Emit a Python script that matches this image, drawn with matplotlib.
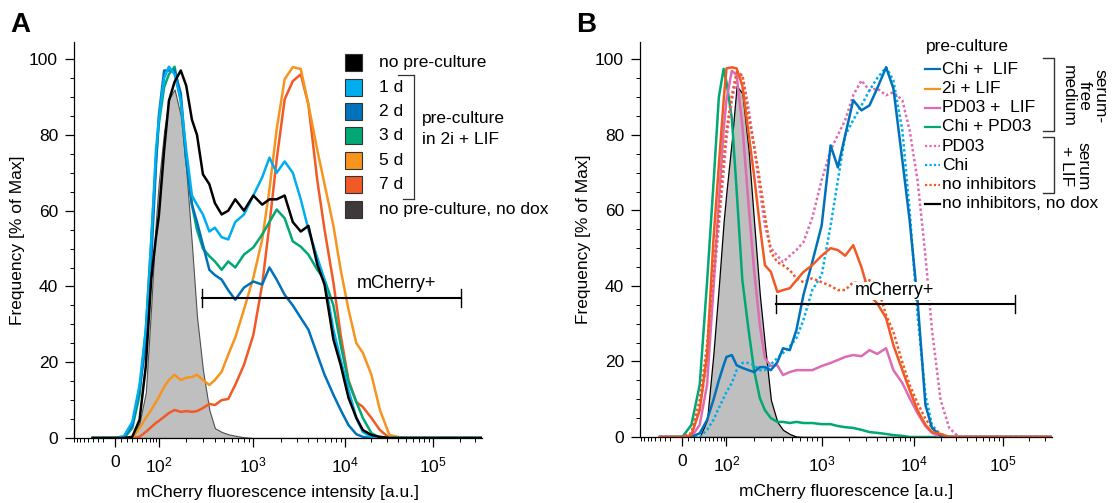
#import numpy to handle arrays
import numpy as np

#import matplotlib to create plots
import matplotlib.pyplot as plt
from matplotlib.patches import Rectangle
from matplotlib.lines import Line2D

plt.rcParams['font.family'] = ['Liberation Sans', 'DejaVu Sans']
plt.rcParams['mathtext.fontset'] = 'custom'
plt.rcParams['mathtext.rm'] = 'Liberation Sans'

#fluorescence bins shared by all histograms (a.u.)
fluor = [-40, 0, 15, 30, 45, 60, 75, 90, 100, 115, 130, 150, 175, 200, 230, 260, 300, 350, 400,
         470, 550, 650, 800, 1000, 1250, 1500, 1800, 2200, 2700, 3300, 4000, 5000, 6000, 7500,
         9000, 11000, 13500, 16000, 20000, 25000, 32000, 45000, 70000, 1e5, 2e5, 3.5e5]

#panel A: frequency [% of max]
a_nodox = [0, 0, 0, 0.3, 4, 12, 35, 57.7, 67.5, 81, 89.4, 92, 85, 71, 51, 32, 18, 7.4, 2.6,
           1.6, 1.0, 0.6, 0.2, 0] + [0] * 22
a_none = [0, 0, 0, 0.3, 4.8, 19, 42, 53, 58.5, 76, 89, 94, 97, 93, 84, 80, 69.6, 67, 62,
          59, 60, 63, 60, 64, 61.6, 63, 63, 64, 57, 54.5, 56, 45.8, 40.5, 26, 19.3, 10.6, 5.3,
          2.1, 0.8, 0.3, 0, 0, 0, 0, 0, 0]
a_1d = [0, 0, 0.5, 4.2, 14, 28.6, 52, 76, 84, 95, 98, 96, 89, 76, 64, 61.6, 59, 54.5, 55.5,
        53, 52.4, 57, 59, 64, 68.8, 74, 70, 73, 70, 63, 55, 47.6, 41.8, 28.6, 20.6, 12.7, 5.3,
        1.6, 0.3, 0, 0, 0, 0, 0, 0, 0]
a_2d = [0, 0, 0, 3.4, 13, 25, 47, 72, 85, 97, 97, 97, 91, 73.5, 61.6, 57, 51, 44.4, 43,
        41.8, 39, 36.5, 39.7, 41.3, 40.5, 45, 41.8, 37.8, 35, 31.7, 28.6, 22, 16.7, 11.4, 7.4,
        3.4, 1, 0.3, 0, 0, 0, 0, 0, 0, 0, 0]
a_3d = [0, 0, 0, 2.6, 11.4, 28.6, 52, 73.5, 82.8, 92.6, 96, 98, 89, 73.5, 61.6, 55, 50, 48,
        46.6, 44.4, 46.6, 45, 48.4, 50.3, 53.7, 57, 60.3, 58, 51.9, 50.5, 48.4, 44.4, 41.8, 35,
        24.6, 14.8, 9.5, 5.3, 1.3, 0, 0, 0, 0, 0, 0, 0]
a_5d = [0, 0, 0, 0, 2.6, 5.3, 7.4, 9.5, 10.8, 13.5, 15.3, 16.7, 15.3, 15.9, 16.1, 16.7, 15.3,
        14, 15.3, 17.5, 22, 26.5, 33.9, 42.3, 52.4, 65.6, 81.5, 94.7, 97.9, 97.4, 88, 76, 67,
        56, 44.4, 33.9, 25, 22.5, 16.7, 7.4, 0.8, 0, 0, 0, 0, 0]
a_7d = [0, 0, 0, 0, 0.3, 1.6, 2.9, 4, 4.5, 5.6, 6.6, 7.4, 6.9, 7.1, 6.9, 7.1, 7.9, 9, 8.7,
        10, 10.3, 14, 19.3, 27.2, 40.5, 56.3, 73.5, 89.4, 94.2, 96, 88, 68, 55, 41, 27.2, 15.3,
        9.5, 8.2, 5.3, 2.1, 0, 0, 0, 0, 0, 0]

#panel B: frequency [% of max]
b_nodox = [0, 0, 0, 0, 4.5, 22, 40, 57, 65, 78.6, 93, 91, 76, 57, 37.6, 24.3, 9.8, 4, 1.9,
           0.8, 0.1, 0] + [0] * 24
b_chi_lif = [0, 0, 0, 1, 4.5, 9.8, 15, 19, 21.2, 21.7, 19, 18.3, 17.7, 17.2, 18.5, 18.5, 17.7,
             19.8, 23.5, 23, 28.3, 37.6, 46.3, 56, 77.2, 71.4, 79.9, 89.2, 86.5, 87.8, 92.3,
             97.9, 92.3, 73.3, 57.4, 36.2, 8.5, 2.4, 0.3, 0, 0, 0, 0, 0, 0, 0]
b_2i_lif = [0, 0, 0.5, 7.1, 21.7, 52, 72, 89, 97.6, 97.9, 97.6, 93, 80.4, 69.3, 56, 45.5, 43.7,
            38.4, 38.9, 39.4, 41.5, 43.7, 45.5, 48, 50, 49.5, 48, 50.8, 45, 37.6, 35.4, 31.5,
            24.3, 17.7, 12.4, 7.1, 3.2, 1.3, 0.8, 0, 0, 0, 0, 0, 0, 0]
b_pd_lif = [0, 0, 0, 3.2, 13.8, 38.9, 62.7, 81.2, 89.2, 97, 95.8, 82.5, 61.4, 44.2, 29.6, 20.9,
            18.8, 19, 16.4, 17.2, 17.7, 17.7, 17.7, 18.8, 19.6, 20.4, 21.2, 21.7, 21.4, 23, 22,
            23.5, 17.7, 14.3, 10.3, 6.3, 2.9, 1.1, 0, 0, 0, 0, 0, 0, 0, 0]
b_chi_pd = [0, 0, 3.2, 13.8, 41, 66.7, 90, 97.5, 94, 84.4, 65.3, 41.5, 28.3, 17.7, 10.3, 7.1, 5,
            4, 4, 3.7, 4, 3.7, 3.7, 3.4, 3.4, 2.9, 2.6, 2.4, 1.9, 1.3, 1.1, 0.8, 0.5, 0.3,
            0] + [0] * 11
b_pd = [0, 0, 1, 8, 20, 40, 56, 70, 79, 89, 95, 96, 87, 77, 65.3, 56, 50, 48, 46.3, 48, 49.5,
        51.6, 58, 68, 76, 80, 83.9, 90.5, 94.4, 91.8, 92.3, 90.5, 91.3, 89.2, 81.2, 68, 48,
        28.3, 9.8, 2.4, 0, 0, 0, 0, 0, 0]
b_chi = [0, 0, 0, 0, 1.9, 4.5, 7.7, 10.3, 11.9, 14.3, 17.7, 19.6, 19.6, 19, 17.7, 17.7, 19.3,
         20.9, 22.2, 24, 26.2, 31, 38.9, 42.9, 56, 68, 79.9, 83.9, 87.8, 91.8, 95, 97.9, 94.4,
         81.2, 60, 32.3, 11.1, 3.2, 0.5, 0, 0, 0, 0, 0, 0, 0]
b_none = [0, 0, 1, 9.8, 24.3, 44.2, 58.7, 73.3, 81.2, 90.5, 96.6, 95.8, 84.7, 77.2, 68, 58.7,
          48.9, 46.3, 45.5, 44.2, 42, 41, 42, 41, 40, 38.9, 38.9, 41, 40.5, 41.5, 40.2, 32.3,
          27.8, 19.8, 13.8, 9, 4.8, 2.4, 0.8, 0, 0, 0, 0, 0, 0, 0]

#mCherry+ gates (a.u., % of max)
gate_a = [290, 2.1e5, 36.9]
gate_b = [336, 1.375e5, 35.2]

#legend entries
a_labels = ['no pre-culture', '1 d', '2 d', '3 d', '5 d', '7 d', 'no pre-culture, no dox']
b_labels = ['Chi +  LIF', '2i + LIF', 'PD03 +  LIF', 'Chi + PD03', 'PD03', 'Chi',
            'no inhibitors', 'no inhibitors, no dox']

#colors
black = '#000000'
cyan = '#00AEEF'
blue = '#0072BC'
green = '#00A875'
orange = '#F7941D'
red = '#F15A24'
pink = '#DD6CB2'
gray = '#BFBFBF'

for y in [a_nodox, a_none, a_1d, a_2d, a_3d, a_5d, a_7d, b_nodox, b_chi_lif, b_2i_lif,
          b_pd_lif, b_chi_pd, b_pd, b_chi, b_none]:
    assert len(y) == len(fluor)

#biexponential-like axis (log above ~100, linear-ish around 0), spacing
anchor_u = np.arcsinh(np.array([-1e3, -100, 0, 100, 1e3, 1e4, 1e5, 1e6]) / 50)
anchor_pos = np.array([-138.6, -43.9, 0, 43.9, 138.6, 230.3, 318.6, 406.9])

def fwd(x):
    return np.interp(np.arcsinh(np.asarray(x, dtype=float) / 50), anchor_u, anchor_pos)

def inv(p):
    return 50 * np.sinh(np.interp(np.asarray(p, dtype=float), anchor_pos, anchor_u))

W, H = 1116, 503
fig = plt.figure(figsize=(W / 100, H / 100), dpi=100)

def fx(px):
    return px / W

def fy(py):
    return 1 - py / H

axA = fig.add_axes([fx(74), fy(438), 408 / W, 396.3 / H])
axB = fig.add_axes([fx(640), fy(437), 412 / W, 395 / H])

minor = list(range(-90, -10, 10)) + list(range(10, 100, 10)) + \
    [m * 10 ** k for k in (2, 3, 4) for m in range(2, 10)] + [2e5, 3e5]

for ax, left in [(axA, -40.3), (axB, -42.1)]:
    ax.set_xscale('function', functions=(fwd, inv))
    ax.set_xlim(inv(left), inv(367.7))
    ax.set_ylim(0, 104.6)
    ax.set_xticks([0, 100, 1e3, 1e4, 1e5],
                  ['0', r'$\mathregular{10^2}$', r'$\mathregular{10^3}$',
                   r'$\mathregular{10^4}$', r'$\mathregular{10^5}$'])
    ax.set_xticks(minor, minor=True)
    ax.set_yticks([0, 20, 40, 60, 80, 100])
    ax.set_yticks(np.arange(0, 105, 5), minor=True)
    ax.spines['top'].set_visible(False)
    ax.spines['right'].set_visible(False)
    for s in ['left', 'bottom']:
        ax.spines[s].set_linewidth(0.9)
    ax.tick_params(which='major', direction='out', length=6.5, width=0.9, labelsize=12.5, pad=5)
    ax.tick_params(axis='x', which='major', pad=6)
    ax.tick_params(which='minor', direction='out', length=3.2, width=0.7)
    ax.set_ylabel('Frequency [% of Max]', fontsize=12.5, labelpad=3)

axA.set_xlabel('mCherry fluorescence intensity [a.u.]', fontsize=12.5, labelpad=7)
axB.set_xlabel('mCherry fluorescence [a.u.]', fontsize=12.5, labelpad=7)

#panel A histograms
axA.fill_between(fluor, a_nodox, color=gray, edgecolor='#505050', lw=0.8, zorder=1)
for y, c in [(a_7d, red), (a_5d, orange), (a_3d, green), (a_2d, blue), (a_1d, cyan), (a_none, black)]:
    axA.plot(fluor, y, color=c, lw=1.8, zorder=2)

#panel B histograms
axB.fill_between(fluor, b_nodox, color=gray, edgecolor='black', lw=0.9, zorder=1)
dot = (0, (1, 1))
for y, c, ls in [(b_chi_pd, green, '-'), (b_pd_lif, pink, '-'), (b_pd, pink, dot),
                 (b_chi, cyan, dot), (b_none, red, dot), (b_chi_lif, blue, '-'),
                 (b_2i_lif, red, '-')]:
    axB.plot(fluor, y, color=c, lw=1.8, ls=ls, zorder=2)

#mCherry+ gates
for ax, g in [(axA, gate_a), (axB, gate_b)]:
    ax.plot([g[0], g[1]], [g[2], g[2]], color='black', lw=1.5, zorder=4)
    for xe in g[:2]:
        ax.plot([xe, xe], [g[2] - 2.3, g[2] + 2.3], color='black', lw=1.0, zorder=4)
axA.text(38900, 40.9, 'mCherry+', fontsize=13, ha='center', va='center', zorder=5)
axB.text(6200, 38.7, 'mCherry+', fontsize=13, ha='center', va='center', zorder=5,
         bbox=dict(facecolor='white', edgecolor='none', pad=0.5))

#panel letters
fig.text(fx(10), fy(32), 'A', fontsize=20, fontweight='bold', va='baseline')
fig.text(fx(576), fy(32), 'B', fontsize=20, fontweight='bold', va='baseline')

#legend A (colored squares with bracket)
a_colors = [black, cyan, blue, green, orange, red, '#3F3939']
for i, (lab, c) in enumerate(zip(a_labels, a_colors)):
    yc = 62.7 + 24.4 * i
    fig.add_artist(Rectangle((fx(345), fy(yc + 8.5)), 17 / W, 17 / H, transform=fig.transFigure,
                             facecolor=c, edgecolor='#333333', lw=0.8))
    fig.text(fx(379), fy(yc), lab, fontsize=12.5, va='center')
for xs, ys in [([398, 414], [75, 75]), ([414, 414], [75, 198.6]), ([403, 414], [198.6, 198.6])]:
    fig.add_artist(Line2D([fx(v) for v in xs], [fy(v) for v in ys], color='#333333', lw=0.9))
fig.text(fx(421.5), fy(118.6), 'pre-culture', fontsize=12.5, va='center')
fig.text(fx(421.5), fy(139.5), 'in 2i + LIF', fontsize=12.5, va='center')

#legend B (short lines with brackets)
fig.text(fx(926), fy(46), 'pre-culture', fontsize=12.5, va='center')
b_styles = [(blue, '-'), (orange, '-'), (pink, '-'), (green, '-'), (pink, dot), (cyan, dot),
            (red, dot), (black, '-')]
for i, (lab, (c, ls)) in enumerate(zip(b_labels, b_styles)):
    yc = 69.3 + 19.2 * i
    fig.add_artist(Line2D([fx(925), fx(940)], [fy(yc), fy(yc)], color=c, ls=ls, lw=1.6))
    fig.text(fx(942), fy(yc), lab, fontsize=12.5, va='center')
for top, bot in [(58.3, 130.7), (136.7, 193.3)]:
    fig.add_artist(Line2D([fx(1043), fx(1054), fx(1054), fx(1043)],
                          [fy(top), fy(top), fy(bot), fy(bot)], color='#333333', lw=1.0))
fig.text(fx(1084), fy(96), 'serum-\nfree\nmedium', fontsize=12.5, rotation=-90,
         ha='center', va='center', multialignment='center', linespacing=1.1)
fig.text(fx(1075), fy(166), 'serum\n+ LIF', fontsize=12.5, rotation=-90,
         ha='center', va='center', multialignment='center', linespacing=1.1)

plt.savefig('out.png', dpi=100)
